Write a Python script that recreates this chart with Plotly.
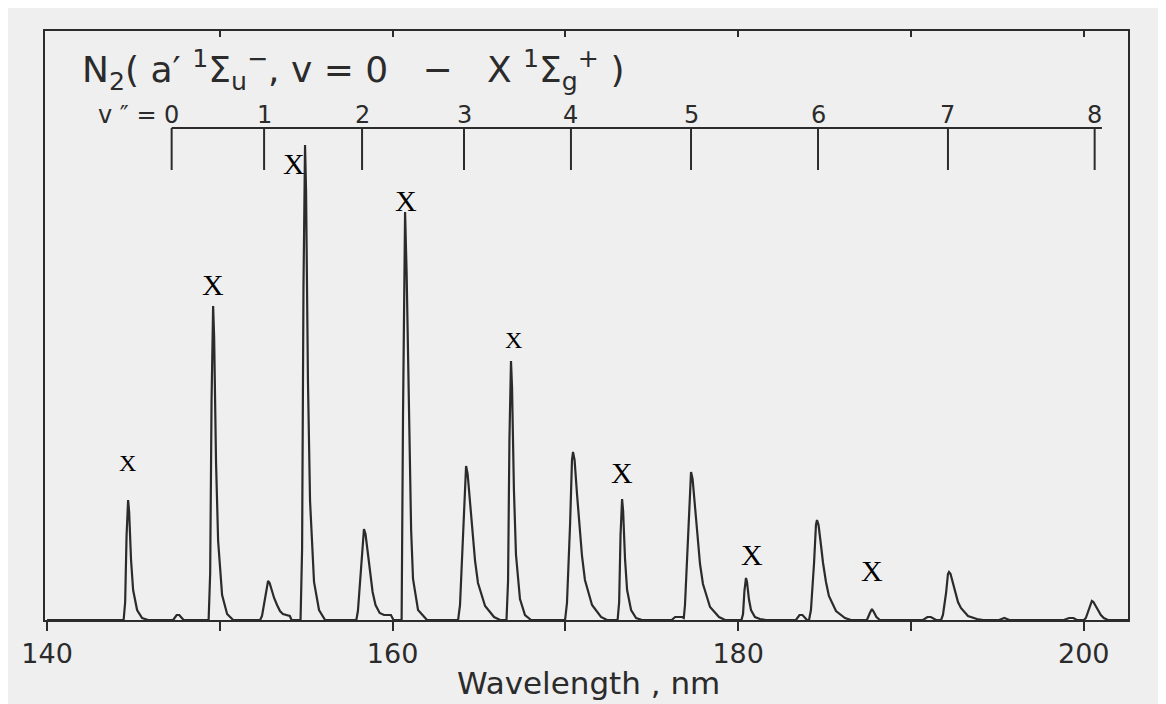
import plotly.graph_objects as go

# ---------------- data ----------------
wavelength_nm = [
    140.00,
    144.43, 144.52, 144.60, 144.69, 144.75, 144.86, 144.98, 145.21, 145.50, 145.85,
    147.30, 147.50, 147.65, 147.90,
    149.35, 149.44, 149.52, 149.61, 149.67, 149.78, 149.90, 150.13, 150.42, 150.77,
    152.33, 152.44, 152.62, 152.73, 152.79, 152.88, 153.02, 153.14, 153.31, 153.48, 153.65, 153.95, 154.05, 154.15,
    154.67, 154.76, 154.84, 154.93, 154.99, 155.10, 155.22, 155.45, 155.74, 156.09,
    157.90, 157.99, 158.17, 158.28, 158.34, 158.43, 158.57, 158.67, 158.84, 159.01, 159.25, 159.50, 159.90, 160.05,
    160.52, 160.60, 160.72, 160.81, 160.95, 161.07, 161.18, 161.47, 161.99,
    163.79, 163.90, 164.08, 164.19, 164.25, 164.34, 164.48, 164.60, 164.77, 164.94, 165.35, 165.87, 166.22,
    166.59, 166.68, 166.76, 166.85, 166.91, 167.02, 167.14, 167.37, 167.66, 168.01,
    169.98, 170.09, 170.27, 170.38, 170.44, 170.53, 170.67, 170.79, 170.96, 171.13, 171.54, 172.06, 172.41,
    173.02, 173.11, 173.19, 173.28, 173.34, 173.45, 173.57, 173.80, 174.09, 174.44,
    176.15, 176.35, 176.75, 176.85, 176.92, 177.10, 177.21, 177.27, 177.36, 177.50, 177.62, 177.79, 177.96, 178.37, 178.89, 179.24,
    180.19, 180.28, 180.36, 180.45, 180.51, 180.62, 180.74, 180.97, 181.26, 181.61,
    183.34, 183.55, 183.72, 183.98,
    184.10, 184.21, 184.39, 184.50, 184.56, 184.65, 184.79, 184.91, 185.08, 185.25, 185.66, 186.18, 186.53,
    187.45, 187.62, 187.74, 187.85, 188.00, 188.20,
    190.70, 190.95, 191.15, 191.45,
    191.74, 191.85, 192.03, 192.14, 192.20, 192.29, 192.43, 192.55, 192.72, 192.89, 193.30, 193.82, 194.17,
    195.10, 195.40, 195.70,
    198.85, 199.15, 199.40, 199.60,
    200.01, 200.12, 200.30, 200.41, 200.47, 200.56, 200.70, 200.82, 200.99, 201.16, 201.40,
    202.56,
]
intensity = [
    0,
    0, 18, 84, 120, 108, 60, 30, 10, 2, 0,
    0, 5, 5, 0,
    0, 47, 220, 314, 283, 157, 79, 25, 6, 0,
    0, 4, 22, 37, 39, 37, 29, 22, 15, 9, 6, 5, 4, 0,
    0, 71, 333, 475, 428, 238, 119, 38, 10, 0,
    0, 9, 52, 86, 91, 86, 68, 50, 28, 15, 7, 5, 5, 0,
    0, 204, 408, 347, 204, 90, 41, 10, 0,
    0, 15, 88, 146, 154, 146, 116, 88, 59, 37, 14, 3, 0,
    0, 39, 181, 259, 233, 130, 65, 21, 5, 0,
    0, 17, 96, 160, 168, 160, 126, 96, 64, 40, 15, 3, 0,
    0, 18, 85, 121, 109, 61, 30, 10, 2, 0,
    0, 3, 3, 2, 15, 84, 141, 148, 141, 111, 84, 56, 36, 13, 3, 0,
    0, 6, 29, 42, 38, 21, 10, 3, 1, 0,
    0, 5, 5, 0,
    0, 10, 57, 95, 100, 95, 75, 57, 38, 24, 9, 2, 0,
    0, 7, 11, 8, 3, 0,
    0, 3, 3, 0,
    0, 5, 27, 46, 48, 46, 36, 27, 18, 12, 4, 1, 0,
    0, 2, 0,
    0, 2, 2, 0,
    0, 2, 11, 18, 19, 18, 14, 11, 5, 2, 0,
    0,
]
assert len(wavelength_nm) == len(intensity)

# v'' progression scale (upper scale)
v_levels = ["0", "1", "2", "3", "4", "5", "6", "7", "8"]
v_tick_nm = [147.21, 152.56, 158.23, 164.13, 170.32, 177.27, 184.62, 192.14, 200.63]

# "X" marks placed above contaminating lines
x_mark_nm = [144.63, 149.61, 154.29, 160.78, 166.97, 173.28, 180.80, 187.74]
x_mark_int = [157, 336, 457, 420, 280, 148, 66, 50]

# bottom axis ticks
x_tick_vals = [140, 150, 160, 170, 180, 190, 200]
x_tick_text = ["140", " ", "160", " ", "180", " ", "200"]
top_tick_vals = [150, 160, 170, 180, 190, 200]

# ---------------- figure ----------------
INK = "#2b2b2b"
BG = "#efefef"
XR = [139.88, 202.56]
YR = [0, 589]
SANS = "DejaVu Sans"

fig = go.Figure()

fig.add_trace(go.Scatter(
    x=wavelength_nm, y=intensity, mode="lines",
    line=dict(color=INK, width=2.2), hoverinfo="skip",
))

# v'' scale: horizontal rule + downward ticks
scale_y_line = 492
scale_y_tick = 450
sx = [v_tick_nm[0], 201.05, None]
sy = [scale_y_line, scale_y_line, None]
for t in v_tick_nm:
    sx += [t, t, None]
    sy += [scale_y_line, scale_y_tick, None]
fig.add_trace(go.Scatter(x=sx, y=sy, mode="lines",
                         line=dict(color=INK, width=2), hoverinfo="skip"))

# dummy trace to activate the top axis (inside ticks)
fig.add_trace(go.Scatter(x=[150], y=[0], xaxis="x2", mode="markers",
                         marker=dict(opacity=0), hoverinfo="skip"))

annotations = []
for lab, t in zip(v_levels, v_tick_nm):
    annotations.append(dict(x=t, y=505, xref="x", yref="y", text=lab,
                            showarrow=False, xanchor="center", yanchor="middle",
                            font=dict(family=SANS, size=24, color=INK)))
annotations.append(dict(x=146.45, y=505, xref="x", yref="y", text="v ″ =",
                        showarrow=False, xanchor="right", yanchor="middle",
                        font=dict(family=SANS, size=24, color=INK)))

mark_sizes = [24, 30, 30, 30, 24, 30, 30, 30]
for xm, ym, fs in zip(x_mark_nm, x_mark_int, mark_sizes):
    annotations.append(dict(x=xm, y=ym, xref="x", yref="y", text="X",
                            showarrow=False, xanchor="center", yanchor="middle",
                            font=dict(family="Liberation Serif", size=fs, color="#000000")))

annotations.append(dict(
    x=(80 - 45) / 1083, y=(620 - 70) / 589, xref="paper", yref="paper",
    text="N<sub>2</sub>( a′ <sup>1</sup>Σ<sub>u</sub><sup>−</sup>, v = 0   −   X <sup>1</sup>Σ<sub>g</sub><sup>+</sup> )",
    showarrow=False, xanchor="left", yanchor="middle",
    font=dict(family=SANS, size=36, color=INK)))

annotations.append(dict(
    x=(588 - 45) / 1083, y=(620 - 683) / 589, xref="paper", yref="paper",
    text="Wavelength , nm", showarrow=False, xanchor="center", yanchor="middle",
    font=dict(family=SANS, size=31, color=INK)))

# The page body adds an 8 px offset; margins compensate so the frame lands
# where the reference shows it.
fig.update_layout(
    width=1166, height=704,
    margin=dict(l=37, r=46, t=23, b=92),
    paper_bgcolor=BG, plot_bgcolor=BG,
    showlegend=False,
    annotations=annotations,
    xaxis=dict(range=XR, showline=True, mirror=True, linecolor=INK, linewidth=2,
               ticks="outside", ticklen=9, tickwidth=2, tickcolor=INK,
               tickvals=x_tick_vals, ticktext=x_tick_text,
               tickfont=dict(family=SANS, size=27, color=INK),
               ticklabelstandoff=0,
               showgrid=False, zeroline=False, fixedrange=True),
    xaxis2=dict(range=XR, overlaying="x", side="top", ticks="inside",
                ticklen=6, tickwidth=2, tickcolor=INK, tickvals=top_tick_vals,
                showticklabels=False, showgrid=False, zeroline=False,
                showline=False, fixedrange=True),
    yaxis=dict(range=YR, showline=True, mirror=True, linecolor=INK, linewidth=2,
               ticks="", showticklabels=False, showgrid=False, zeroline=False,
               fixedrange=True),
)

fig.write_html("out.html")
